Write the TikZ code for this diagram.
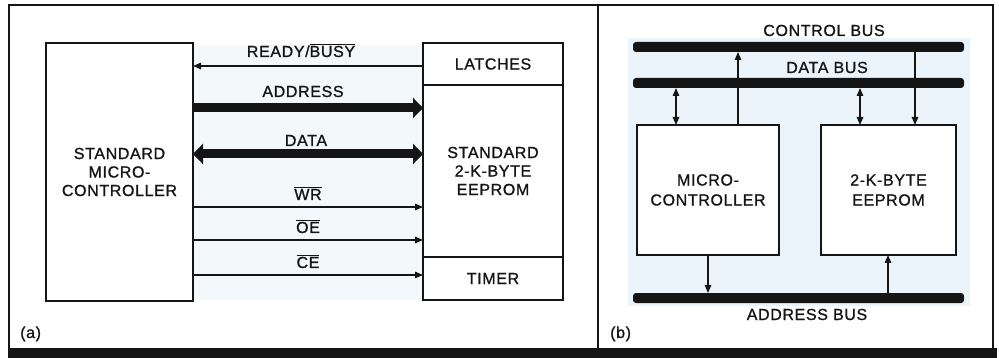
\documentclass[tikz,border=0pt]{standalone}
\usepackage{fontspec}
\setmainfont{Liberation Sans}[FakeBold=1.1]
\usetikzlibrary{arrows.meta,positioning}
\definecolor{ink}{HTML}{151515}
\definecolor{tint}{HTML}{EBF4FA}
\definecolor{tintb}{HTML}{F3F8FB}
\newcommand{\lbl}{\fontsize{16}{18.5}\selectfont\addfontfeatures{LetterSpace=4}}
\newcommand{\ovl}[1]{$\overline{\mbox{#1}}$}
\tikzset{blk/.style={draw=ink,line width=1.8pt,fill=white,inner sep=0,outer sep=0,
    align=center,font=\lbl,text=ink},
  sig/.style={ink,line width=1.3pt,-{Triangle[length=8pt,width=6.5pt]}},
  sigboth/.style={sig,{Triangle[length=8pt,width=6.5pt]}-{Triangle[length=8pt,width=6.5pt]}},
  bus/.style={ink,line width=9pt,-{Triangle[length=10pt,width=20pt]}},
  busboth/.style={bus,{Triangle[length=10pt,width=20pt]}-{Triangle[length=10pt,width=20pt]}},
  busbar/.style={fill=ink,rounded corners=3pt,minimum width=331pt,minimum height=10pt,
    inner sep=0,outer sep=0},
  tag/.style={inner sep=0,font=\lbl,text=ink,anchor=base}}

\begin{document}
\begin{tikzpicture}[x=1pt,y=-1pt]
\useasboundingbox (0,0) rectangle (999,358);
% frame and tints
\fill[tintb] (193,45) rectangle (423,300);
\fill[tint] (628,38) rectangle (970,306);
\draw[ink,line width=1.8pt] (9,348) -- (9,5) -- (993,5) -- (993,355) (598,5) -- (598,348);
\fill[ink] (8,348) rectangle (997,358);

% (a) standard parts
\node[blk,minimum width=147pt,minimum height=258pt] (mcuA) at (119.5,172)
  {STANDARD\\MICRO-\\CONTROLLER};
\node[blk,minimum width=140pt,minimum height=42pt] (latch) at (493,64) {LATCHES};
\node[blk,minimum width=140pt,minimum height=172pt,below=0pt of latch] (core)
  {STANDARD\\2-K-BYTE\\EEPROM};
\node[blk,minimum width=140pt,minimum height=43pt,below=0pt of core] (timer) {TIMER};

\draw[sig] (latch.west |- 0,66) -- (mcuA.east |- 0,66);
\node[tag] at (301,57) {READY/\ovl{BUSY}};
\draw[bus] (mcuA.east |- 0,108) -- (core.west |- 0,108);
\node[tag] at (303,97) {ADDRESS};
\draw[busboth] (mcuA.east |- 0,154) -- (core.west |- 0,154);
\node[tag] at (306,146) {DATA};
\foreach \y/\t in {207/WR,240/OE,275/CE}{
  \draw[sig] (mcuA.east |- 0,\y) -- (core.west |- 0,\y);
  \node[tag] at (308,\y-7) {\ovl{\t}};
}
\node[tag,anchor=base west] at (20,338) {(a)};

% (b) shared buses
\node[busbar] (ctl) at (798.5,47) {};
\node[busbar] (dat) at (798.5,83) {};
\node[busbar] (adr) at (798.5,298) {};
\node[tag] at (824,36) {CONTROL BUS};
\node[tag] at (827,73) {DATA BUS};
\node[tag] at (807,320) {ADDRESS BUS};

\node[blk,minimum width=142pt,minimum height=130pt,
  font=\lbl\fontsize{16}{20}\selectfont] (mcuB) at (708,190) {MICRO-\\CONTROLLER};
\node[blk,minimum width=135pt,minimum height=130pt,
  font=\lbl\fontsize{16}{20}\selectfont] (romB) at (888.5,190) {2-K-BYTE\\EEPROM};

\draw[sigboth] (dat.south -| 676,0) -- (mcuB.north -| 676,0);
\draw[sig] (mcuB.north -| 738,0) -- (ctl.south -| 738,0);
\draw[sigboth] (dat.south -| 860,0) -- (romB.north -| 860,0);
\draw[sig] (ctl.south -| 915,0) -- (romB.north -| 915,0);
\draw[sig] (mcuB.south -| 708,0) -- (adr.north -| 708,0);
\draw[sig] (adr.north -| 888,0) -- (romB.south -| 888,0);
\node[tag,anchor=base west] at (610,338) {(b)};
\end{tikzpicture}
\end{document}
